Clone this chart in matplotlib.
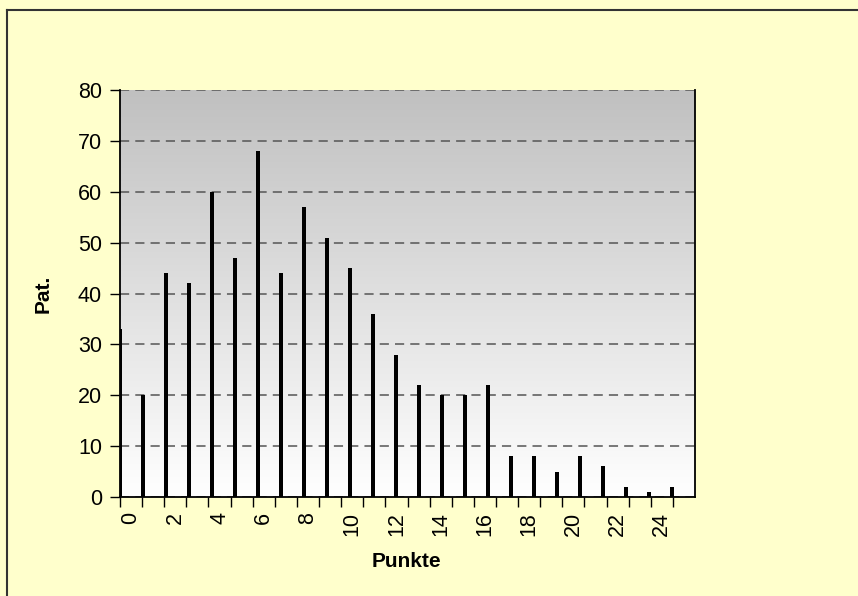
import numpy as np
import matplotlib.pyplot as plt
from matplotlib.lines import Line2D
from matplotlib.colors import LinearSegmentedColormap

plt.rcParams['font.family'] = ['Liberation Sans', 'DejaVu Sans']

# Punktzahl je Patient (Häufigkeit)
punkte = np.arange(25)
patienten = [33, 20, 44, 42, 60, 47, 68, 44, 57, 51, 45, 36, 28,
             22, 20, 20, 22, 8, 8, 5, 8, 6, 2, 1, 2]
kategorien = np.arange(26)
tick_labels = [str(k) if k % 2 == 0 else '' for k in kategorien]

W, H = 858, 596
fig = plt.figure(figsize=(W / 100, H / 100), dpi=100, facecolor='#FFFFCC')

# Rahmen (nur oben und links sichtbar)
x0, y0 = 7 / W, 1 - 10 / H
fig.add_artist(Line2D([x0, x0], [0, y0], color='#333333', lw=1.5))
fig.add_artist(Line2D([x0, 1], [y0, y0], color='#333333', lw=1.5))

ax = fig.add_axes([120 / W, 1 - 497 / H, 575 / W, 407 / H])
ax.set_xlim(0, 26)
ax.set_ylim(0, 80)

# Hintergrund: Verlauf von grau nach weiß
grad = np.linspace(0, 1, 256).reshape(-1, 1)
bg = LinearSegmentedColormap.from_list('bg', ['#FFFFFF', '#C0C0C0'])
ax.imshow(grad, cmap=bg, aspect='auto', extent=(0, 26, 0, 80),
          origin='lower', zorder=0)

ax.set_yticks(np.arange(0, 81, 10))
ax.yaxis.grid(True, color='#555555', linestyle=(0, (6, 4)), linewidth=1.1)
ax.set_axisbelow(False)
for gl in ax.get_ygridlines():
    gl.set_zorder(1)

ax.set_xticks(kategorien)
ax.set_xticklabels([])
ax.set_xticks(kategorien[:-1] + 0.5, minor=True)
ax.set_xticklabels(tick_labels[:-1], minor=True, rotation=90)
ax.tick_params(axis='x', which='minor', length=0, pad=11, labelsize=15.5)
ax.tick_params(axis='x', which='major', length=7, width=1)
ax.tick_params(axis='y', length=7, width=1, pad=6, labelsize=15.5)

ax.spines['top'].set_visible(False)
for s in ['left', 'right', 'bottom']:
    ax.spines[s].set_linewidth(1.3)
    ax.spines[s].set_zorder(5)

ax.set_xlabel('Punkte', fontsize=15, fontweight='bold')
ax.set_ylabel('Pat.', fontsize=15, fontweight='bold')
ax.xaxis.set_label_coords(0.499, -0.135)
ax.yaxis.set_label_coords(-0.1165, 0.5)

# Säulen auf zweiter x-Achse (0..25)
ax2 = ax.twiny()
ax2.set_xlim(0, 25)
ax2.set_ylim(0, 80)
ax2.bar(punkte, patienten, width=0.17, color='black', zorder=3)
ax2.axis('off')

fig.savefig('out.png', dpi=100, facecolor=fig.get_facecolor())
